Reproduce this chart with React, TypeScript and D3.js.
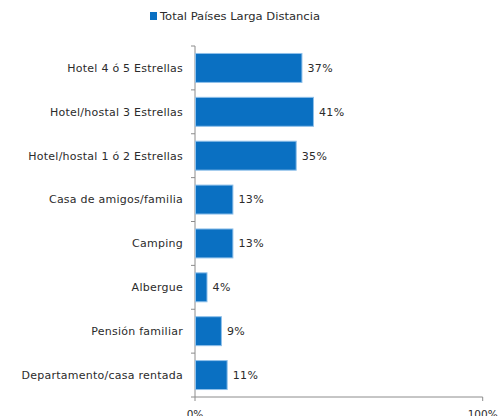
import React from "react";
import * as d3 from "d3";

const categories = [
  "Hotel 4 ó 5 Estrellas",
  "Hotel/hostal 3 Estrellas",
  "Hotel/hostal 1 ó 2 Estrellas",
  "Casa de amigos/familia",
  "Camping",
  "Albergue",
  "Pensión familiar",
  "Departamento/casa rentada",
];
const values = [37, 41, 35, 13, 13, 4, 9, 11];
const xTicks = [0, 100];
const seriesName = "Total Países Larga Distancia";

const W = 501;
const H = 416;
const left = 195;
const right = 482.7;
const top = 46;
const bottom = 397;
const font = "'DejaVu Sans', sans-serif";
const textColor = "#2b2b2b";
const barColor = "#0a70c2";
const axisColor = "#8c8c8c";

export default function App() {
  const x = d3.scaleLinear().domain([0, 100]).range([left, right]);
  const y = d3.scaleBand().domain(categories).range([top, bottom]).paddingInner(0.34).paddingOuter(0.17);
  const band = (bottom - top) / categories.length;
  return (
    <svg width={W} height={H} style={{ position: "absolute", left: 0, top: 0 }}>
      <rect x={0} y={0} width={W} height={H} fill="#fff" />
      {/* legend */}
      <rect x={150} y={12} width={7} height={8} fill={barColor} />
      <text x={160} y={20} fontFamily={font} fontSize={10} fill={textColor} textLength={160} lengthAdjust="spacingAndGlyphs">
        {seriesName}
      </text>
      {/* y axis */}
      <line x1={left} x2={left} y1={top} y2={bottom} stroke={axisColor} strokeWidth={1} />
      {d3.range(categories.length + 1).map((i) => (
        <line key={i} x1={left - 4} x2={left} y1={top + i * band} y2={top + i * band} stroke={axisColor} />
      ))}
      {/* x axis */}
      <line x1={left} x2={right} y1={bottom} y2={bottom} stroke={axisColor} />
      {xTicks.map((t) => (
        <g key={t}>
          <line x1={x(t)} x2={x(t)} y1={bottom} y2={bottom + 4} stroke={axisColor} />
          <text x={x(t)} y={418} textAnchor="middle" fontFamily={font} fontSize={10.5} fill={textColor}>
            {t}%
          </text>
        </g>
      ))}
      {categories.map((c, i) => (
        <g key={c}>
          <rect
            x={x(0) + 0.5}
            y={y(c)!}
            width={x(values[i]) - x(0)}
            height={y.bandwidth()}
            fill={barColor}
            stroke="#8fc0ea"
            strokeWidth={1}
          />
          <text
            x={left - 12}
            y={y(c)! + y.bandwidth() / 2}
            dy="0.35em"
            textAnchor="end"
            fontFamily={font}
            fontSize={11}
            letterSpacing={0.25}
            fill={textColor}
          >
            {c}
          </text>
          <text
            x={x(values[i]) + 6}
            y={y(c)! + y.bandwidth() / 2}
            dy="0.35em"
            fontFamily={font}
            fontSize={11}
            letterSpacing={0.4}
            fill={textColor}
          >
            {values[i]}%
          </text>
        </g>
      ))}
    </svg>
  );
}
